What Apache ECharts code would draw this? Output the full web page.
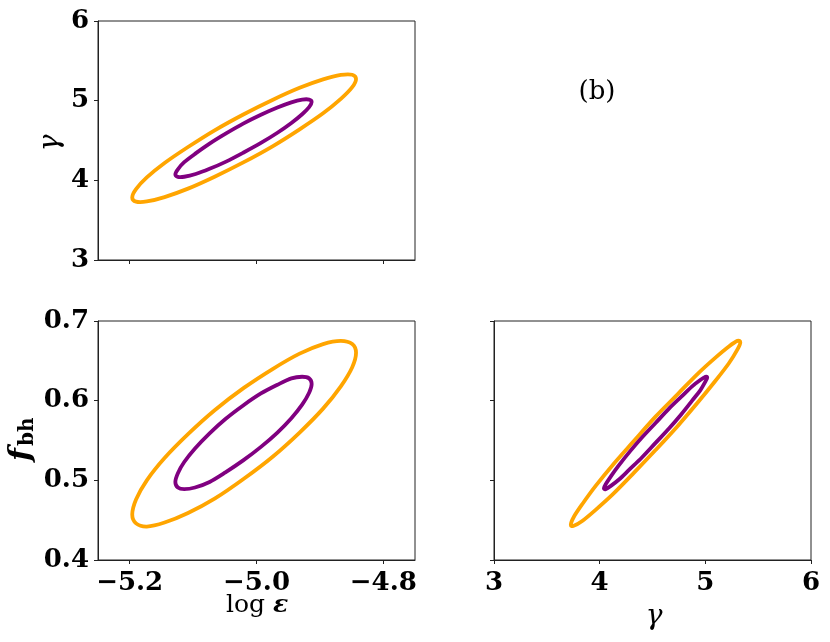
<!DOCTYPE html>
<html>
<head>
<meta charset="utf-8">
<script src="https://cdn.jsdelivr.net/npm/echarts@6/dist/echarts.min.js"></script>
<style>
    html, body { margin: 0; padding: 0; background: #fff; }
    #main { width: 830px; height: 642px; }
</style>
</head>
<body>
<div id="main"></div>
<script>
// axis ticks
var epsTicks = [-5.2, -5.0, -4.8];
var gammaTicks = [3, 4, 5, 6];
var fbhTicks = [0.4, 0.5, 0.6, 0.7];

// contours, [x, y] pairs; orange = outer, purple = inner
var epsGammaOuter = [[-5.020, 4.830], [-5.066, 4.628], [-5.108, 4.418], [-5.145, 4.217], [-5.173, 4.036],
    [-5.190, 3.889], [-5.196, 3.786], [-5.190, 3.733], [-5.173, 3.735], [-5.145, 3.790], [-5.108, 3.896],
    [-5.066, 4.046], [-5.020, 4.228], [-4.974, 4.430], [-4.932, 4.640], [-4.895, 4.841], [-4.867, 5.022],
    [-4.849, 5.169], [-4.843, 5.272], [-4.849, 5.325], [-4.867, 5.323], [-4.895, 5.267], [-4.932, 5.161],
    [-4.974, 5.012], [-5.020, 4.830]];
var epsGammaInner = [[-5.021, 4.712], [-5.048, 4.589], [-5.074, 4.461], [-5.096, 4.338], [-5.114, 4.228],
    [-5.124, 4.139], [-5.128, 4.076], [-5.124, 4.044], [-5.114, 4.045], [-5.096, 4.079], [-5.074, 4.144],
    [-5.048, 4.235], [-5.021, 4.346], [-4.993, 4.469], [-4.967, 4.597], [-4.945, 4.720], [-4.928, 4.830],
    [-4.917, 4.919], [-4.913, 4.982], [-4.917, 5.014], [-4.928, 5.013], [-4.945, 4.979], [-4.967, 4.914],
    [-4.993, 4.823], [-5.021, 4.712]];
var epsFbhOuter = [[-5.020, 0.616], [-5.066, 0.588], [-5.108, 0.558], [-5.145, 0.528], [-5.173, 0.500],
    [-5.190, 0.476], [-5.196, 0.457], [-5.190, 0.446], [-5.173, 0.442], [-5.145, 0.447], [-5.108, 0.459],
    [-5.066, 0.477], [-5.020, 0.502], [-4.974, 0.530], [-4.932, 0.560], [-4.895, 0.590], [-4.867, 0.618],
    [-4.849, 0.642], [-4.843, 0.660], [-4.849, 0.671], [-4.867, 0.675], [-4.895, 0.671], [-4.932, 0.659],
    [-4.974, 0.640], [-5.020, 0.616]];
var epsFbhInner = [[-5.021, 0.594], [-5.049, 0.577], [-5.074, 0.559], [-5.097, 0.540], [-5.114, 0.523],
    [-5.124, 0.509], [-5.128, 0.498], [-5.124, 0.491], [-5.114, 0.489], [-5.097, 0.491], [-5.074, 0.498],
    [-5.049, 0.510], [-5.021, 0.525], [-4.993, 0.542], [-4.967, 0.560], [-4.945, 0.578], [-4.928, 0.595],
    [-4.917, 0.610], [-4.913, 0.621], [-4.917, 0.628], [-4.928, 0.630], [-4.945, 0.628], [-4.967, 0.620],
    [-4.993, 0.609], [-5.021, 0.594]];
var gammaFbhOuter = [[4.529, 0.580], [4.321, 0.549], [4.128, 0.520], [3.962, 0.493], [3.835, 0.470],
    [3.755, 0.454], [3.727, 0.444], [3.755, 0.443], [3.835, 0.449], [3.962, 0.463], [4.128, 0.483],
    [4.321, 0.509], [4.529, 0.538], [4.737, 0.568], [4.930, 0.598], [5.096, 0.625], [5.223, 0.647],
    [5.303, 0.664], [5.331, 0.673], [5.303, 0.675], [5.223, 0.668], [5.096, 0.654], [4.930, 0.634],
    [4.737, 0.608], [4.529, 0.580]];
var gammaFbhInner = [[4.529, 0.572], [4.402, 0.554], [4.285, 0.536], [4.183, 0.519], [4.106, 0.505],
    [4.057, 0.495], [4.040, 0.490], [4.057, 0.489], [4.106, 0.493], [4.183, 0.501], [4.285, 0.514],
    [4.402, 0.529], [4.529, 0.547], [4.656, 0.565], [4.773, 0.583], [4.875, 0.600], [4.952, 0.613],
    [5.001, 0.624], [5.018, 0.629], [5.001, 0.630], [4.952, 0.626], [4.875, 0.618], [4.773, 0.605],
    [4.656, 0.590], [4.529, 0.572]];

var INK = '#222';
var TICK_FONT = 'DejaVu Serif';
var ORANGE = '#ffa500', PURPLE = '#800080';

function minus(v, d) {
    var s = Math.abs(v).toFixed(d);
    return v < 0 ? '\u2212' + s : s;
}

function axis(idx, min, max, ticks, labels, d, margin) {
    return {
        gridIndex: idx, type: 'value', min: min, max: max,
        axisLine: { show: true, onZero: false, lineStyle: { color: INK, width: 1 } },
        axisTick: { show: true, length: 4, customValues: ticks, lineStyle: { color: INK } },
        axisLabel: {
            show: labels, customValues: ticks, margin: margin, color: '#000',
            fontFamily: TICK_FONT, fontWeight: 'bold', fontSize: 26,
            formatter: function (v) { return minus(v, d); }
        },
        splitLine: { show: false }
    };
}

function grid(left, top) {
    return { left: left, top: top, width: 317, height: 239, show: true,
        borderColor: INK, borderWidth: 1 };
}

// closed contour: points go through api.coord, joined by a closed cardinal spline
function loop(pts, i, color, z) {
    return {
        type: 'custom', xAxisIndex: i, yAxisIndex: i, data: pts, silent: true, z: z,
        renderItem: function (params, api) {
            if (params.dataIndex !== 0) {
                return null;
            }
            var n = pts.length - 1, p = [], k;
            for (k = 0; k < n; k++) {
                p.push(api.coord(pts[k]));
            }
            var d = 'M' + p[0][0] + ' ' + p[0][1];
            for (k = 0; k < n; k++) {
                var a = p[(k - 1 + n) % n], b = p[k], c = p[(k + 1) % n], e = p[(k + 2) % n];
                d += ' C' + (b[0] + (c[0] - a[0]) / 6) + ' ' + (b[1] + (c[1] - a[1]) / 6) +
                    ' ' + (c[0] - (e[0] - b[0]) / 6) + ' ' + (c[1] - (e[1] - b[1]) / 6) +
                    ' ' + c[0] + ' ' + c[1];
            }
            d += ' Z';
            return {
                type: 'path', shape: { pathData: d },
                style: { fill: 'none', stroke: color, lineWidth: 3.8, lineJoin: 'round' }
            };
        }
    };
}

var chart = echarts.init(document.getElementById('main'));
chart.setOption({
    animation: false,
    backgroundColor: '#fff',
    grid: [grid(98, 21), grid(98, 321), grid(494, 321)],
    xAxis: [
        axis(0, -5.25, -4.75, epsTicks, false, 1, 10),
        axis(1, -5.25, -4.75, epsTicks, true, 1, 10),
        axis(2, 3, 6, gammaTicks, true, 0, 10)
    ],
    yAxis: [
        axis(0, 3, 6, gammaTicks, true, 0, 9),
        axis(1, 0.4, 0.7, fbhTicks, true, 1, 9),
        axis(2, 0.4, 0.7, fbhTicks, false, 1, 9)
    ],
    series: [
        loop(epsGammaOuter, 0, ORANGE, 2),
        loop(epsGammaInner, 0, PURPLE, 3),
        loop(epsFbhOuter, 1, ORANGE, 2),
        loop(epsFbhInner, 1, PURPLE, 3),
        loop(gammaFbhOuter, 2, ORANGE, 2),
        loop(gammaFbhInner, 2, PURPLE, 3)
    ],
    graphic: [
        { type: 'text', x: 597, y: 92, style: { text: '(b)', font: '26px DejaVu Serif', fill: '#000',
            textAlign: 'center', textVerticalAlign: 'middle' } },
        { type: 'text', x: 51, y: 143, rotation: Math.PI / 2, style: { text: '\u03b3',
            font: 'italic 28px DejaVu Serif', fill: '#000', textAlign: 'center', textVerticalAlign: 'middle' } },
        { type: 'group', x: 22, y: 448, rotation: Math.PI / 2, children: [
            { type: 'text', x: 0, y: 0, style: { text: 'f', font: 'italic bold 30px DejaVu Serif', fill: '#000',
                textAlign: 'right', textVerticalAlign: 'middle' } },
            { type: 'text', x: 2, y: 6, style: { text: 'bh', font: 'bold 20px DejaVu Serif', fill: '#000',
                textAlign: 'left', textVerticalAlign: 'middle' } }
        ] },
        { type: 'text', x: 257, y: 605, style: { text: '{a|log }{b|\u03b5}', fill: '#000',
            textAlign: 'center', textVerticalAlign: 'middle',
            rich: { a: { font: '25px DejaVu Serif', fill: '#000' },
                b: { font: 'italic bold 25px DejaVu Serif', fill: '#000' } } } },
        { type: 'text', x: 654, y: 617, style: { text: '\u03b3', font: 'italic 28px DejaVu Serif', fill: '#000',
            textAlign: 'center', textVerticalAlign: 'middle' } }
    ]
});
</script>
</body>
</html>
